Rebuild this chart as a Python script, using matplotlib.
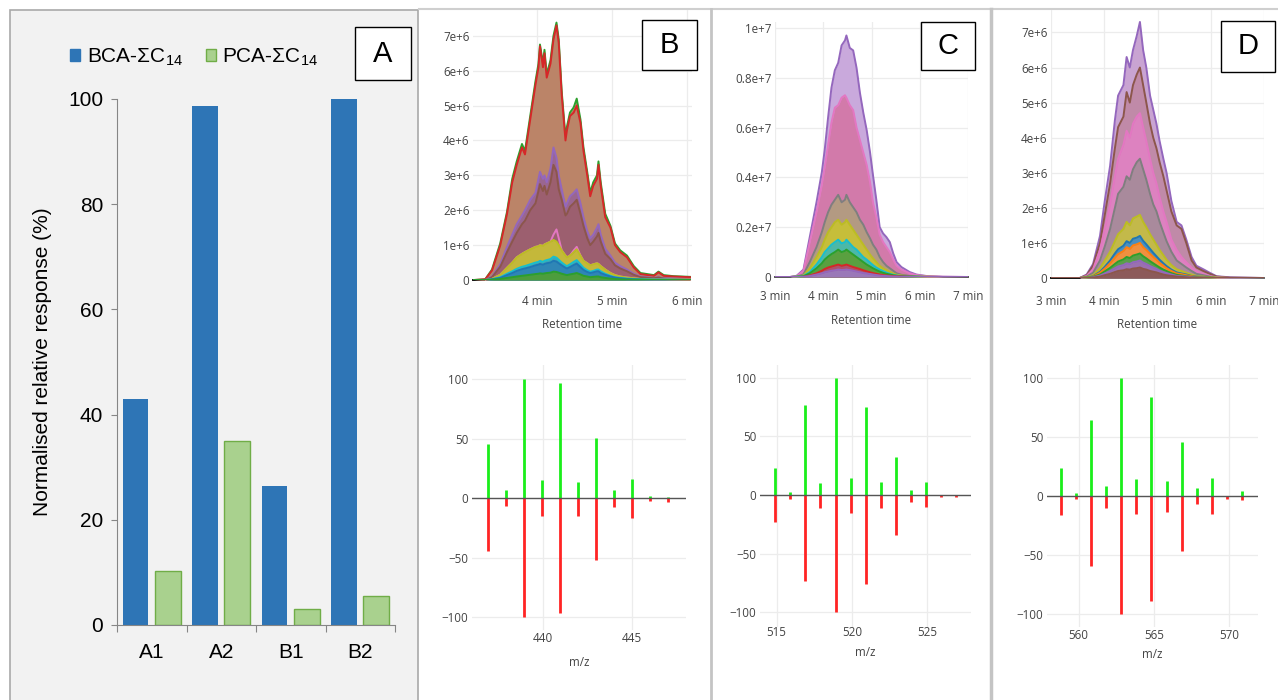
import matplotlib
matplotlib.use('Agg')
import matplotlib.pyplot as plt
from matplotlib.patches import Rectangle, Patch

# ---------------- data ----------------
# Panel A: normalised relative response (%)
sample_names = ['A1', 'A2', 'B1', 'B2']
bca_sum_c14 = [42.9, 98.7, 26.4, 100.0]
pca_sum_c14 = [10.3, 34.9, 3.0, 5.5]

# Panel B chromatogram (retention time in min, intensity in 1e6)
b_time = [3.16, 3.31, 3.40, 3.51, 3.60, 3.67, 3.73, 3.80, 3.84, 3.91, 3.98, 4.02, 4.04, 4.08, 4.10, 4.13,
          4.18, 4.22, 4.26, 4.29, 4.33, 4.38, 4.40, 4.44, 4.49, 4.53, 4.58, 4.62, 4.67, 4.71, 4.75, 4.80,
          4.82, 4.85, 4.91, 4.98, 5.04, 5.11, 5.20, 5.29, 5.38, 5.56, 5.62, 5.69, 5.82, 6.04]
b_green_top = [0.0, 0.02, 0.3, 1.05, 1.95, 2.9, 3.4, 3.9, 3.7, 4.7, 5.7, 6.2, 6.75, 6.2, 6.6, 5.9,
               6.3, 7.0, 7.38, 6.9, 5.4, 4.1, 4.4, 4.8, 4.95, 5.2, 4.6, 3.8, 3.1, 2.5, 2.8, 3.0,
               3.4, 2.8, 1.9, 1.55, 1.05, 0.85, 0.7, 0.4, 0.2, 0.14, 0.24, 0.14, 0.11, 0.09]
b_red = [0.0, 0.02, 0.27, 0.99, 1.89, 2.8, 3.3, 3.8, 3.6, 4.6, 5.6, 6.1, 6.7, 6.1, 6.5, 5.8,
         6.2, 6.9, 7.3, 6.8, 5.3, 4.0, 4.3, 4.7, 4.8, 5.0, 4.5, 3.7, 3.0, 2.4, 2.7, 2.9,
         3.3, 2.7, 1.8, 1.5, 1.0, 0.8, 0.65, 0.36, 0.17, 0.12, 0.22, 0.12, 0.10, 0.08]
b_purple = [0.0, 0.0, 0.1, 0.45, 0.95, 1.3, 1.6, 1.85, 2.0, 2.3, 2.5, 2.9, 3.1, 2.9, 3.0, 2.8,
            3.2, 3.8, 3.5, 3.0, 2.6, 2.1, 2.2, 2.4, 2.5, 2.6, 2.2, 1.8, 1.4, 1.2, 1.3, 1.5,
            1.6, 1.3, 0.9, 0.7, 0.5, 0.4, 0.3, 0.18, 0.1, 0.06, 0.08, 0.05, 0.04, 0.03]
b_brown = [0.0, 0.0, 0.08, 0.38, 0.8, 1.1, 1.35, 1.6, 1.7, 2.0, 2.2, 2.55, 2.75, 2.55, 2.7, 2.45,
           2.8, 3.3, 3.1, 2.6, 2.3, 1.85, 1.9, 2.1, 2.2, 2.3, 1.9, 1.55, 1.2, 1.0, 1.1, 1.25,
           1.35, 1.1, 0.75, 0.6, 0.42, 0.33, 0.25, 0.15, 0.08, 0.05, 0.07, 0.04, 0.03, 0.02]
b_pink = [0.0, 0.0, 0.03, 0.15, 0.35, 0.5, 0.65, 0.75, 0.8, 0.88, 0.95, 0.97, 1.0, 0.98, 1.02, 1.05,
          1.1, 1.3, 1.45, 1.2, 0.85, 0.7, 0.65, 0.7, 0.85, 0.95, 0.7, 0.55, 0.48, 0.42, 0.45, 0.48,
          0.46, 0.4, 0.3, 0.2, 0.14, 0.1, 0.07, 0.05, 0.03, 0.02, 0.02, 0.02, 0.01, 0.01]
b_olive = [0.0, 0.0, 0.03, 0.15, 0.35, 0.5, 0.65, 0.75, 0.8, 0.88, 0.95, 0.97, 1.0, 0.98, 1.02, 1.05,
           1.1, 1.15, 1.1, 1.0, 0.85, 0.7, 0.65, 0.7, 0.8, 0.88, 0.7, 0.55, 0.48, 0.42, 0.45, 0.48,
           0.46, 0.4, 0.3, 0.2, 0.14, 0.1, 0.07, 0.05, 0.03, 0.02, 0.02, 0.02, 0.01, 0.01]
b_cyan = [0.0, 0.0, 0.02, 0.08, 0.18, 0.25, 0.32, 0.38, 0.4, 0.45, 0.5, 0.52, 0.55, 0.52, 0.55, 0.57,
          0.6, 0.67, 0.64, 0.58, 0.5, 0.42, 0.4, 0.45, 0.52, 0.57, 0.45, 0.35, 0.28, 0.24, 0.26, 0.3,
          0.3, 0.25, 0.18, 0.12, 0.08, 0.06, 0.04, 0.03, 0.02, 0.01, 0.01, 0.01, 0.01, 0.0]
b_blue = [0.0, 0.0, 0.02, 0.06, 0.14, 0.2, 0.26, 0.31, 0.33, 0.37, 0.42, 0.44, 0.46, 0.44, 0.46, 0.48,
          0.5, 0.55, 0.53, 0.48, 0.42, 0.35, 0.33, 0.37, 0.43, 0.47, 0.37, 0.29, 0.23, 0.2, 0.22, 0.25,
          0.25, 0.2, 0.15, 0.1, 0.07, 0.05, 0.03, 0.02, 0.01, 0.01, 0.01, 0.01, 0.0, 0.0]
b_green = [0.0, 0.0, 0.01, 0.03, 0.06, 0.08, 0.1, 0.12, 0.13, 0.15, 0.17, 0.18, 0.19, 0.18, 0.19, 0.2,
           0.21, 0.24, 0.23, 0.21, 0.18, 0.15, 0.14, 0.16, 0.18, 0.2, 0.16, 0.12, 0.1, 0.08, 0.09, 0.1,
           0.1, 0.08, 0.06, 0.04, 0.03, 0.02, 0.01, 0.01, 0.01, 0.0, 0.0, 0.0, 0.0, 0.0]
b_base_time = [3.15, 3.29]
b_base = [0.0, 0.0]

# Panel C chromatogram
c_time = [3.00, 3.31, 3.45, 3.59, 3.72, 3.86, 3.97, 4.03, 4.10, 4.17, 4.24, 4.31, 4.38, 4.45, 4.48, 4.55,
          4.62, 4.69, 4.76, 4.83, 4.90, 4.97, 5.03, 5.10, 5.17, 5.24, 5.31, 5.38, 5.45, 5.52, 5.62, 5.79,
          5.93, 6.14, 6.48, 7.00]
c_purple = [0, 0, 0.05, 0.3, 1.6, 3.0, 4.2, 5.1, 6.4, 7.6, 8.3, 8.6, 9.3, 9.5, 9.7, 9.2,
            9.1, 8.4, 7.4, 6.6, 5.9, 5.0, 4.1, 3.1, 2.0, 1.75, 1.6, 1.4, 0.95, 0.6, 0.4, 0.2,
            0.1, 0.04, 0.01, 0]
c_pink = [0, 0, 0.04, 0.25, 1.4, 2.6, 3.7, 4.4, 5.3, 6.2, 6.8, 6.9, 7.2, 7.3, 7.2, 6.9,
          6.7, 6.0, 5.5, 5.0, 4.5, 3.8, 3.0, 2.4, 1.7, 1.4, 1.2, 1.0, 0.7, 0.45, 0.3, 0.15,
          0.08, 0.03, 0.01, 0]
c_gray = [0, 0, 0.01, 0.1, 0.6, 1.2, 1.8, 2.2, 2.6, 2.9, 3.1, 3.3, 3.0, 3.1, 3.3, 3.0,
          2.8, 2.6, 2.3, 2.1, 1.8, 1.55, 1.3, 1.1, 0.8, 0.6, 0.45, 0.35, 0.25, 0.15, 0.09, 0.04,
          0.02, 0.01, 0, 0]
c_olive = [0, 0, 0.01, 0.06, 0.35, 0.8, 1.2, 1.5, 1.8, 2.0, 2.2, 2.3, 2.1, 2.2, 2.3, 2.1,
           1.9, 1.7, 1.5, 1.3, 1.1, 0.9, 0.75, 0.6, 0.45, 0.35, 0.28, 0.2, 0.14, 0.09, 0.06, 0.03,
           0.01, 0.01, 0, 0]
c_cyan = [0, 0, 0.01, 0.04, 0.2, 0.5, 0.8, 1.0, 1.15, 1.3, 1.4, 1.5, 1.35, 1.4, 1.5, 1.35,
          1.2, 1.1, 0.95, 0.8, 0.7, 0.58, 0.48, 0.38, 0.3, 0.24, 0.18, 0.13, 0.09, 0.06, 0.04, 0.02,
          0.01, 0, 0, 0]
c_green = [0, 0, 0.01, 0.03, 0.15, 0.35, 0.55, 0.7, 0.82, 0.92, 1.0, 1.1, 1.0, 1.05, 1.1, 1.0,
           0.9, 0.8, 0.7, 0.6, 0.5, 0.42, 0.35, 0.28, 0.22, 0.17, 0.13, 0.1, 0.07, 0.05, 0.03, 0.02,
           0.01, 0, 0, 0]
c_red = [0, 0, 0, 0.01, 0.06, 0.15, 0.25, 0.32, 0.38, 0.42, 0.46, 0.5, 0.45, 0.48, 0.5, 0.45,
         0.4, 0.36, 0.32, 0.27, 0.23, 0.19, 0.16, 0.13, 0.1, 0.08, 0.06, 0.05, 0.04, 0.03, 0.02, 0.01,
         0, 0, 0, 0]
c_violet = [0, 0, 0, 0.01, 0.04, 0.1, 0.15, 0.19, 0.22, 0.25, 0.27, 0.3, 0.28, 0.29, 0.3, 0.28,
            0.25, 0.22, 0.19, 0.16, 0.14, 0.12, 0.1, 0.08, 0.06, 0.05, 0.04, 0.03, 0.02, 0.02, 0.01, 0.01,
            0, 0, 0, 0]
c_base_time = [3.0, 7.0]
c_base = [0.0, 0.0]

# Panel D chromatogram
d_time = [3.00, 3.54, 3.67, 3.79, 3.92, 4.01, 4.11, 4.20, 4.26, 4.36, 4.42, 4.48, 4.54, 4.61, 4.67, 4.73,
          4.79, 4.86, 4.92, 4.98, 5.04, 5.11, 5.17, 5.26, 5.36, 5.45, 5.54, 5.64, 5.73, 5.86, 5.98, 6.11,
          6.36, 7.00]
d_purple = [0, 0, 0.1, 0.4, 1.2, 2.2, 3.2, 4.5, 5.2, 5.5, 6.3, 6.0, 6.5, 6.9, 7.3, 6.5,
            6.0, 5.2, 4.8, 4.4, 3.9, 3.4, 3.0, 2.2, 1.6, 1.5, 1.1, 0.6, 0.35, 0.25, 0.15, 0.05,
            0.02, 0]
d_brown = [0, 0, 0.08, 0.35, 1.0, 1.8, 2.7, 3.7, 4.3, 4.6, 5.3, 5.0, 5.5, 5.8, 6.0, 5.5,
           5.0, 4.4, 4.0, 3.7, 3.3, 2.9, 2.5, 1.9, 1.5, 1.4, 1.0, 0.5, 0.3, 0.2, 0.12, 0.04,
           0.01, 0]
d_pink = [0, 0, 0.06, 0.25, 0.8, 1.4, 2.1, 2.9, 3.4, 3.8, 4.2, 4.0, 4.4, 4.6, 4.7, 4.3,
          3.9, 3.4, 3.0, 2.7, 2.3, 1.9, 1.6, 1.1, 0.8, 0.6, 0.45, 0.3, 0.2, 0.12, 0.06, 0.02,
          0, 0]
d_gray = [0, 0, 0.04, 0.15, 0.5, 0.9, 1.4, 2.0, 2.4, 2.6, 2.9, 2.8, 3.1, 3.3, 3.4, 3.1,
          2.8, 2.4, 2.1, 1.9, 1.6, 1.3, 1.05, 0.75, 0.5, 0.4, 0.3, 0.2, 0.12, 0.08, 0.04, 0.01,
          0, 0]
d_olive = [0, 0, 0.02, 0.08, 0.28, 0.5, 0.75, 1.05, 1.25, 1.4, 1.6, 1.5, 1.7, 1.75, 1.8, 1.6,
           1.45, 1.25, 1.1, 0.95, 0.8, 0.65, 0.52, 0.37, 0.25, 0.2, 0.15, 0.1, 0.06, 0.04, 0.02, 0.01,
           0, 0]
d_blue = [0, 0, 0.01, 0.05, 0.18, 0.32, 0.5, 0.7, 0.82, 0.92, 1.05, 1.0, 1.12, 1.15, 1.2, 1.06,
          0.96, 0.83, 0.72, 0.62, 0.52, 0.42, 0.34, 0.24, 0.16, 0.13, 0.1, 0.06, 0.04, 0.03, 0.01, 0,
          0, 0]
d_orange = [0, 0, 0.01, 0.04, 0.15, 0.27, 0.42, 0.58, 0.68, 0.77, 0.88, 0.83, 0.93, 0.96, 1.0, 0.88,
            0.8, 0.69, 0.6, 0.52, 0.43, 0.35, 0.28, 0.2, 0.13, 0.11, 0.08, 0.05, 0.03, 0.02, 0.01, 0,
            0, 0]
d_green = [0, 0, 0.01, 0.03, 0.1, 0.19, 0.29, 0.4, 0.47, 0.53, 0.6, 0.57, 0.64, 0.67, 0.7, 0.62,
           0.56, 0.48, 0.42, 0.36, 0.3, 0.24, 0.2, 0.14, 0.09, 0.07, 0.05, 0.03, 0.02, 0.01, 0.01, 0,
           0, 0]
d_violet = [0, 0, 0, 0.02, 0.07, 0.13, 0.2, 0.28, 0.33, 0.37, 0.42, 0.4, 0.45, 0.47, 0.5, 0.44,
            0.4, 0.34, 0.3, 0.26, 0.21, 0.17, 0.14, 0.1, 0.06, 0.05, 0.04, 0.02, 0.01, 0.01, 0, 0,
            0, 0]
d_darkbrown = [0, 0, 0, 0.01, 0.04, 0.08, 0.12, 0.17, 0.2, 0.22, 0.25, 0.24, 0.27, 0.28, 0.3, 0.26,
               0.24, 0.2, 0.18, 0.16, 0.13, 0.1, 0.08, 0.06, 0.04, 0.03, 0.02, 0.01, 0.01, 0, 0, 0,
               0, 0]
d_base_time = [3.0, 3.6]
d_base = [0.0, 0.0]
d_tail_time = [3.6, 7.0]
d_tail = [0.0, 0.0]

# tick labels of the chromatograms
min_ticks = [3, 4, 5, 6, 7]
min_labels = ['3 min', '4 min', '5 min', '6 min', '7 min']
e6_ticks = [0, 1, 2, 3, 4, 5, 6, 7]
e6_labels = ['0', '1e+6', '2e+6', '3e+6', '4e+6', '5e+6', '6e+6', '7e+6']
e7_ticks = [0, 2, 4, 6, 8, 10]
e7_labels = ['0', '0.2e+7', '0.4e+7', '0.6e+7', '0.8e+7', '1e+7']

# Mass spectra: measured (up) vs theoretical (down) relative abundance
b_mz = [436.97, 437.97, 438.97, 439.97, 440.97, 441.97, 442.97, 443.97, 444.97, 445.97, 446.97]
b_measured = [45.5, 6.4, 100, 14.8, 96.9, 13.7, 50.3, 6.4, 15.9, 1.4, 0.8]
b_theoretical = [44.7, 7.0, 99.7, 15.4, 96.9, 14.8, 51.7, 7.8, 16.8, 2.8, 3.4]

c_mz = [514.91, 515.91, 516.91, 517.91, 518.91, 519.91, 520.91, 521.91, 522.91, 523.91, 524.91, 525.91, 526.91]
c_measured = [23.2, 2.6, 76.8, 10.3, 100, 14.6, 74.8, 10.9, 32.7, 4.6, 11.5, 0, 0]
c_theoretical = [23.0, 3.4, 73.6, 11.1, 100, 15.3, 75.9, 11.4, 34.4, 5.7, 10.2, 1.7, 2.0]

d_mz = [558.83, 559.83, 560.83, 561.83, 562.83, 563.83, 564.83, 565.83, 566.83, 567.83, 568.83, 569.83, 570.83]
d_measured = [23.9, 2.3, 64.5, 8.8, 100, 14.5, 84.1, 12.8, 45.7, 6.5, 15.3, 0, 4.0]
d_theoretical = [16.3, 2.8, 59.4, 9.9, 100, 15.5, 88.7, 13.8, 47.0, 7.0, 15.5, 2.5, 3.4]

ms_ticks = [-100, -50, 0, 50, 100]
ms_labels = ['\u2212100', '\u221250', '0', '50', '100']

# ---------------- layout helpers ----------------
W, H = 1278, 700
plt.rcParams['font.family'] = ['Liberation Sans', 'DejaVu Sans']
plt.rcParams['mathtext.fontset'] = 'custom'
plt.rcParams['mathtext.rm'] = 'Liberation Sans'
plt.rcParams['mathtext.it'] = 'Liberation Sans:italic'

fig = plt.figure(figsize=(W / 100, H / 100), dpi=100)


def px_axes(x0, y0, x1, y1):
    return fig.add_axes([x0 / W, 1 - y1 / H, (x1 - x0) / W, (y1 - y0) / H])


PLOTLY_FONT = dict(fontfamily='Open Sans', fontsize=8.4, color='#444444')


def plotly_style(ax, box, xticks, xlabels, yticks, ylabels, xpad, xlabel, label_y):
    x0, y0, x1, y1 = box
    ax.set_facecolor('none')
    for s in ax.spines.values():
        s.set_visible(False)
    ax.tick_params(length=0)
    ax.tick_params(axis='x', pad=xpad)
    ax.tick_params(axis='y', pad=2.5)
    ax.set_xticks(xticks, xlabels, va='center', **PLOTLY_FONT)
    ax.set_yticks(yticks, ylabels, **PLOTLY_FONT)
    ax.grid(True, color='#ececec', lw=0.9)
    ax.set_axisbelow(True)
    ax.set_xlabel(xlabel, **PLOTLY_FONT)
    ax.xaxis.label.set_va('center')
    ax.xaxis.set_label_coords(0.5, (y1 - label_y) / (y1 - y0))


def draw_chromatogram(box, time, layers, baselines, xlim, ymax, yticks, ylabels, xpad, label_y):
    ax = px_axes(*box)
    for bt, bv, bc in baselines:
        ax.plot(bt, bv, color=bc, lw=1.4, zorder=2, clip_on=False)
    for values, line_color, fill_color in layers:
        ax.fill_between(time, 0, values, color=fill_color, lw=0, zorder=2)
        ax.plot(time, values, color=line_color, lw=1.4, zorder=2)
    ax.set_xlim(*xlim)
    ax.set_ylim(0, ymax)
    plotly_style(ax, box, min_ticks, min_labels, yticks, ylabels, xpad, 'Retention time', label_y)
    ax.set_xlim(*xlim)
    return ax


def draw_spectrum(box, mz, measured, theoretical, xlim, ylim, xticks, xpad, label_y):
    ax = px_axes(*box)
    ax.vlines(mz, 0, measured, color='#1aee1a', lw=2.0, zorder=2)
    ax.vlines(mz, 0, [-v for v in theoretical], color='#ff2424', lw=2.0, zorder=2)
    ax.axhline(0, color='#555555', lw=1.0, zorder=3)
    plotly_style(ax, box, xticks, [str(t) for t in xticks], ms_ticks, ms_labels, xpad, 'm/z', label_y)
    ax.set_xlim(*xlim)
    ax.set_ylim(*ylim)
    return ax


# ---------------- background and frames ----------------
bg = fig.add_axes([0, 0, 1, 1])
bg.set_xlim(0, W)
bg.set_ylim(H, 0)
bg.axis('off')
bg.add_patch(Rectangle((10, 10), 408, 700, facecolor='#f2f2f2', edgecolor='#a9a9a9', lw=1.2))
bg.plot([419, W], [9, 9], color='#cfcfcf', lw=1.5)
bg.plot([711, 711], [9, H], color='#c4c4c4', lw=2.0)
bg.plot([990.5, 990.5], [9, H], color='#c4c4c4', lw=2.5)

# ---------------- panel A ----------------
axA = px_axes(117, 99, 395, 625)
axA.set_facecolor('none')
xpos = range(len(sample_names))
axA.bar([i + 0.5 - 0.235 for i in xpos], bca_sum_c14, width=0.37, color='#2e75b6', zorder=2)
axA.bar([i + 0.5 + 0.23 for i in xpos], pca_sum_c14, width=0.375, color='#a9d18e',
        edgecolor='#70ad47', lw=1.0, zorder=2)
axA.set_xlim(0, 4)
axA.set_ylim(0, 100)
axA.set_yticks([0, 20, 40, 60, 80, 100])
axA.set_xticks([0, 1, 2, 3, 4], [''] * 5)
axA.set_xticks([0.5, 1.5, 2.5, 3.5], sample_names, minor=True)
axA.tick_params(axis='x', which='major', direction='out', length=5, color='#868686')
axA.tick_params(axis='x', which='minor', length=0, pad=13, labelsize=15)
axA.tick_params(axis='y', direction='out', length=4, color='#868686', labelsize=15, pad=6)
for side in ['top', 'right']:
    axA.spines[side].set_visible(False)
for side in ['left', 'bottom']:
    axA.spines[side].set_color('#868686')
axA.set_ylabel('Normalised relative response (%)', fontsize=15)
axA.yaxis.set_label_coords((52 - 117) / 278, 0.5)
handles = [Patch(facecolor='#2e75b6', edgecolor='#2e75b6'),
           Patch(facecolor='#a9d18e', edgecolor='#70ad47')]
fig.legend(handles, ['BCA-\u03a3C$_{14}$', 'PCA-\u03a3C$_{14}$'], ncol=2, loc='center left',
           bbox_to_anchor=(70 / W, 1 - 57 / H), frameon=False, fontsize=15,
           handlelength=0.5, handleheight=0.5, handletextpad=0.3, columnspacing=1.1,
           borderpad=0, borderaxespad=0)

# ---------------- panels B, C, D: chromatograms ----------------
draw_chromatogram((473, 10, 692, 280), b_time,
                  [(b_green_top, '#2ca02c', '#bb8468'), (b_red, '#d62728', '#bb8468'),
                   (b_purple, '#9467bd', '#9a6690'), (b_brown, '#8c564b', '#9c5f6f'),
                   (b_pink, '#e377c2', '#9c5f6f'), (b_olive, '#bcbd22', '#c4b83a'),
                   (b_cyan, '#17becf', '#3da7b8'), (b_blue, '#1f77b4', '#2f86b6'),
                   (b_green, '#2ca02c', '#4d9d3d')],
                  [(b_base_time, b_base, '#111111')],
                  (3.147, 6.067), 7.74, e6_ticks, e6_labels, 15.8, 325)

draw_chromatogram((775, 22, 968, 277), c_time,
                  [(c_purple, '#9467bd', '#c9a9dc'), (c_pink, '#e377c2', '#d27aaa'),
                   (c_gray, '#7f7f7f', '#b39a82'), (c_olive, '#bcbd22', '#c6be3a'),
                   (c_cyan, '#17becf', '#4cb8a8'), (c_green, '#2ca02c', '#5aa040'),
                   (c_red, '#d62728', '#b0506a'), (c_violet, '#9467bd', '#9a78b8')],
                  [(c_base_time, c_base, '#555555')],
                  (3, 7), 10.24, e7_ticks, e7_labels, 14.4, 320)

draw_chromatogram((1051, 10, 1264, 278), d_time,
                  [(d_purple, '#9467bd', '#c9a4d2'), (d_brown, '#8c564b', '#c08aa8'),
                   (d_pink, '#e377c2', '#dd82c0'), (d_gray, '#7f7f7f', '#a98a9c'),
                   (d_olive, '#bcbd22', '#c3b94a'), (d_blue, '#1f77b4', '#4a8fc0'),
                   (d_orange, '#ff7f0e', '#f09040'), (d_green, '#2ca02c', '#5a9f4a'),
                   (d_violet, '#9467bd', '#9a70b0'), (d_darkbrown, '#8c564b', '#8c5a5a')],
                  [(d_tail_time, d_tail, '#666666'), (d_base_time, d_base, '#111111')],
                  (3, 7), 7.64, e6_ticks, e6_labels, 16.6, 324)

# ---------------- mass spectra ----------------
draw_spectrum((472, 365, 686, 630), b_mz, b_measured, b_theoretical,
              (436.05, 448.0), (-110.9, 111.8), [440, 445], 5.8, 662)
draw_spectrum((760, 365, 971, 627), c_mz, c_measured, c_theoretical,
              (513.9, 527.9), (-112.8, 111.1), [515, 520, 525], 4.3, 653)
draw_spectrum((1047, 365, 1258, 627), d_mz, d_measured, d_theoretical,
              (557.9, 571.9), (-111, 111), [560, 565, 570], 5.8, 655)

# ---------------- panel letter boxes ----------------
fg = fig.add_axes([0, 0, 1, 1], zorder=10)
fg.set_xlim(0, W)
fg.set_ylim(H, 0)
fg.axis('off')
for (x0, y0, x1, y1), letter in [((355, 27, 411, 80), 'A'), ((642, 20, 697, 70), 'B'),
                                 ((921, 22, 975, 70), 'C'), ((1221, 21, 1275, 72), 'D')]:
    fg.add_patch(Rectangle((x0, y0), x1 - x0, y1 - y0, facecolor='white', edgecolor='black', lw=1.0))
    fg.text((x0 + x1) / 2, (y0 + y1) / 2, letter, ha='center', va='center', fontsize=21)

fig.savefig('out.png', dpi=100)
